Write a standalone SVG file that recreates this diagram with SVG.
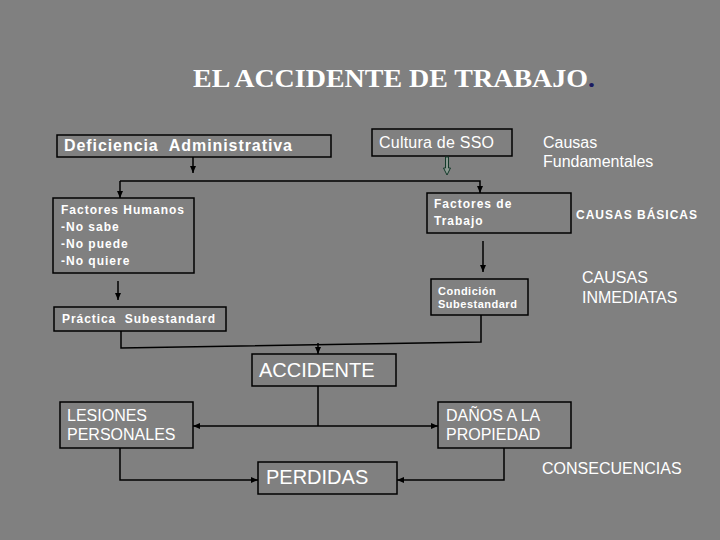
<svg xmlns="http://www.w3.org/2000/svg" width="720" height="540" viewBox="0 0 720 540">
<style>
.box{fill:#808080;stroke:#000;stroke-width:1.5}
.t{font-family:"Liberation Sans",Arial,sans-serif;fill:#fff}
.b12{font-size:12px;font-weight:bold;letter-spacing:1px}
.r16{font-size:16px}
.r20{font-size:20px}
.ln{fill:none;stroke:#000;stroke-width:1.5}
</style>
<defs>
<marker id="ah" markerWidth="8" markerHeight="8" refX="7" refY="4" orient="auto" markerUnits="userSpaceOnUse">
<path d="M0,1 L7,4 L0,7 Z" fill="#000"/>
</marker>
</defs>
<rect width="720" height="540" fill="#808080"/>
<text x="193" y="87" font-family="'Liberation Serif','Times New Roman',serif" font-size="26" font-weight="bold" fill="#fff" textLength="402" lengthAdjust="spacingAndGlyphs">EL ACCIDENTE DE TRABAJO<tspan fill="#1a1a60">.</tspan></text>

<g id="deficiencia">
<rect class="box" x="57" y="135" width="274" height="22"/>
<text class="t" x="64" y="151" font-size="16" font-weight="bold" textLength="228" xml:space="preserve">Deficiencia  Administrativa</text>
</g>
<g id="cultura">
<rect class="box" x="372" y="129" width="140" height="27"/>
<text class="t r16" x="379" y="148" textLength="115">Cultura de SSO</text>
</g>
<g id="causas-fundamentales">
<text class="t r16" x="543" y="148">Causas</text>
<text class="t r16" x="543" y="167">Fundamentales</text>
</g>
<g id="factores-humanos">
<rect class="box" x="53" y="198" width="141" height="75"/>
<text class="t b12" x="61" y="214">Factores Humanos</text>
<text class="t b12" x="61" y="231">-No sabe</text>
<text class="t b12" x="61" y="248">-No puede</text>
<text class="t b12" x="61" y="265">-No quiere</text>
</g>
<g id="factores-trabajo">
<rect class="box" x="427" y="193" width="144" height="40"/>
<text class="t b12" x="434" y="208">Factores de</text>
<text class="t b12" x="434" y="225">Trabajo</text>
</g>
<g id="causas-basicas">
<text class="t b12" x="576" y="219">CAUSAS BÁSICAS</text>
</g>
<g id="condicion">
<rect class="box" x="431" y="279" width="97" height="36"/>
<text class="t" x="438" y="295" font-size="11" font-weight="bold" letter-spacing="0.5">Condición</text>
<text class="t" x="438" y="308" font-size="11" font-weight="bold" letter-spacing="0.5">Subestandard</text>
</g>
<g id="causas-inmediatas">
<text class="t r16" x="582" y="283">CAUSAS</text>
<text class="t r16" x="582" y="303">INMEDIATAS</text>
</g>
<g id="practica">
<rect class="box" x="54" y="307" width="172" height="24"/>
<text class="t b12" x="62" y="323" textLength="154" xml:space="preserve">Práctica  Subestandard</text>
</g>
<g id="accidente">
<rect class="box" x="252" y="354" width="144" height="32"/>
<text class="t r20" x="259" y="377">ACCIDENTE</text>
</g>
<g id="lesiones">
<rect class="box" x="60" y="402" width="133" height="46"/>
<text class="t r16" x="67" y="421">LESIONES</text>
<text class="t r16" x="67" y="440">PERSONALES</text>
</g>
<g id="danos">
<rect class="box" x="438" y="402" width="133" height="46"/>
<text class="t r16" x="446" y="421">DAÑOS A LA</text>
<text class="t r16" x="446" y="440">PROPIEDAD</text>
</g>
<g id="perdidas">
<rect class="box" x="258" y="462" width="139" height="32"/>
<text class="t r20" x="266" y="484">PERDIDAS</text>
</g>
<g id="consecuencias">
<text class="t r16" x="542" y="474">CONSECUENCIAS</text>
</g>

<g id="connectors">
<path class="ln" d="M193,157 V173" marker-end="url(#ah)"/>
<polygon points="445.5,157 448.5,157 448.5,168 450.5,168 447,175 443.5,168 445.5,168" fill="#8c9a92" stroke="#143a2a" stroke-width="1"/>
<path class="ln" d="M120,181 H480 V193" marker-end="url(#ah)"/>
<path class="ln" d="M120,181 V198" marker-end="url(#ah)"/>
<path class="ln" d="M483,241 V272" marker-end="url(#ah)"/>
<path class="ln" d="M118,281 V300" marker-end="url(#ah)"/>
<path class="ln" d="M121,331 V348 L481,342 V315"/>
<path class="ln" d="M318,343 V354" marker-end="url(#ah)"/>
<path class="ln" d="M318,386 V426"/>
<path class="ln" d="M318,426 H193" marker-end="url(#ah)"/>
<path class="ln" d="M318,426 H438" marker-end="url(#ah)"/>
<path class="ln" d="M120,448 V480 H258" marker-end="url(#ah)"/>
<path class="ln" d="M504,448 V480 H397" marker-end="url(#ah)"/>
</g>
</svg>
